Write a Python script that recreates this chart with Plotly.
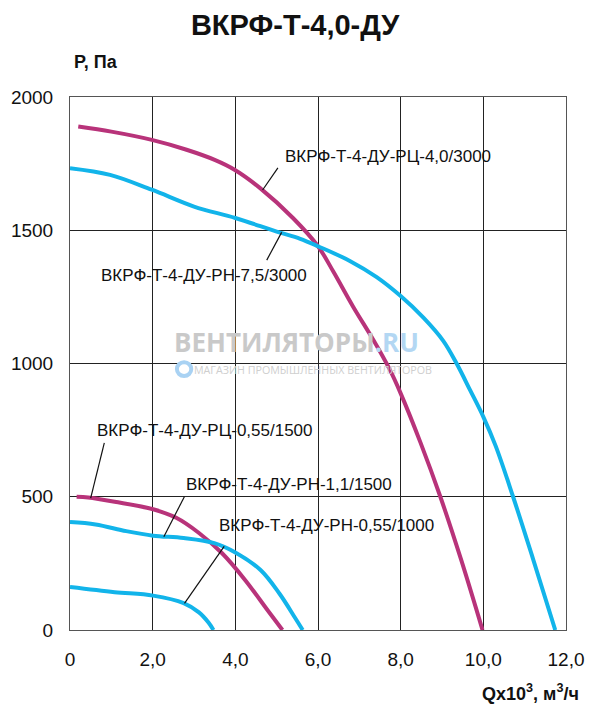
import plotly.graph_objects as go

# Fan curves, Q in thousands m3/h, P in Pa
rc40_q = [0.2, 1.0, 1.98, 2.82, 3.5, 3.98, 4.6, 5.4, 6.0, 6.37, 6.85, 7.34, 7.74, 8.0, 8.48, 8.96, 9.47, 9.98]
rc40_p = [1889, 1870, 1839, 1802, 1764, 1727, 1658, 1545, 1440, 1345, 1213, 1088, 976, 888, 703, 500, 260, 0]

rn75_q = [0.0, 0.97, 1.98, 3.0, 4.0, 5.0, 5.57, 6.0, 6.77, 7.42, 8.0, 8.55, 9.03, 9.36, 9.68, 10.0,
          10.3, 10.72, 11.2, 11.74]
rn75_p = [1733, 1708, 1652, 1589, 1546, 1495, 1468, 1440, 1385, 1324, 1253, 1172, 1085, 998, 900, 800,
          690, 500, 268, 0]

rc055_q = [0.16, 0.44, 1.08, 2.01, 2.57, 3.12, 3.68, 4.24, 4.79, 5.14]
rc055_p = [500, 497, 481, 453, 421, 364, 288, 187, 72, 0]

rn11_q = [0.0, 0.62, 1.36, 2.01, 2.75, 3.49, 4.0, 4.61, 5.07, 5.44, 5.63]
rn11_p = [405, 396, 371, 354, 345, 326, 291, 225, 136, 47, 0]

rn055_q = [0.0, 1.08, 2.01, 2.75, 3.12, 3.35, 3.47]
rn055_p = [161, 142, 129, 101, 66, 28, 0]

x_ticks = [0, 2, 4, 6, 8, 10, 12]
x_labels = ["0", "2,0", "4,0", "6,0", "8,0", "10,0", "12,0"]
y_ticks = [0, 500, 1000, 1500, 2000]

# curve labels: text, text position (left, middle), leader from / to
labels = ["ВКРФ-Т-4-ДУ-РЦ-4,0/3000", "ВКРФ-Т-4-ДУ-РН-7,5/3000", "ВКРФ-Т-4-ДУ-РЦ-0,55/1500",
          "ВКРФ-Т-4-ДУ-РН-1,1/1500", "ВКРФ-Т-4-ДУ-РН-0,55/1000"]
label_x = [5.16, 0.71, 0.595, 2.77, 3.56]
label_y = [1776, 1332, 747, 545, 394]
lead_x0 = [5.03, 4.76, 0.83, 2.77, 3.73]
lead_y0 = [1734, 1388, 702, 501, 314]
lead_x1 = [4.66, 5.12, 0.5, 2.27, 2.77]
lead_y1 = [1651, 1492, 495, 350, 100]

MAGENTA = "#b8337a"
CYAN = "#12b4ea"

fig = go.Figure()
for q, p, col in [(rc40_q, rc40_p, MAGENTA), (rn75_q, rn75_p, CYAN),
                  (rc055_q, rc055_p, MAGENTA), (rn11_q, rn11_p, CYAN),
                  (rn055_q, rn055_p, CYAN)]:
    fig.add_trace(go.Scatter(x=q, y=p, mode="lines", line=dict(color=col, width=4, shape="spline", smoothing=1.0),
                             hoverinfo="skip", showlegend=False))

for i in range(len(labels)):
    fig.add_annotation(x=label_x[i], y=label_y[i], text=labels[i], showarrow=False,
                       xanchor="left", yanchor="middle", font=dict(size=17, color="#111"))
    fig.add_shape(type="line", x0=lead_x0[i], y0=lead_y0[i], x1=lead_x1[i], y1=lead_y1[i],
                  line=dict(color="#111", width=1.2))

# watermark
fig.add_annotation(xref="paper", yref="paper", x=0.206, y=0.54, xanchor="left", yanchor="middle",
                   text="<b>ВЕНТИЛЯТОРЫ<span style='color:#b3d7f3'>.RU</span></b>", showarrow=False,
                   font=dict(family="Open Sans, Arial", size=26, color="#c9c9c9"))
fig.add_annotation(xref="paper", yref="paper", x=0.245, y=0.488, xanchor="left", yanchor="middle",
                   text="МАГАЗИН ПРОМЫШЛЕННЫХ ВЕНТИЛЯТОРОВ", showarrow=False,
                   font=dict(family="Open Sans, Arial", size=10.7, color="#cfcfcf"))
fig.add_shape(type="circle", xref="paper", yref="paper", x0=0.2155, x1=0.2445, y0=0.4765, y1=0.5025,
              line=dict(color="#a9d2f3", width=4), fillcolor="white", layer="above")

# axis titles
fig.add_annotation(xref="paper", yref="paper", x=0.004, y=1.066, xanchor="left", yanchor="middle",
                   text="<b>P, Па</b>", showarrow=False, font=dict(size=18, color="#111"))
fig.add_annotation(xref="paper", yref="paper", x=1.03, y=-0.118, xanchor="right", yanchor="middle",
                   text="<b>Qx10<sup>3</sup>, м<sup>3</sup>/ч</b>", showarrow=False,
                   font=dict(size=18, color="#111"))

# page body adds an 8px offset, so the figure is 8px smaller than the window
fig.update_layout(
    width=592, height=700,
    margin=dict(l=62, r=34, t=89, b=78),
    paper_bgcolor="white", plot_bgcolor="white",
    font=dict(family="Arial, Liberation Sans", color="#111"),
    title=dict(text="<b>ВКРФ-Т-4,0-ДУ</b>", x=0.485, xanchor="center", y=0.976, yanchor="middle",
               font=dict(size=29, color="#111")),
)
fig.update_xaxes(range=[0, 12], tickvals=x_ticks, ticktext=x_labels, showgrid=True, gridcolor="#222",
                 gridwidth=1, showline=True, linecolor="#555", linewidth=1, mirror=True, zeroline=False,
                 ticks="", tickfont=dict(size=19), ticklabelstandoff=12, automargin=False)
fig.update_yaxes(range=[0, 2000], tickvals=y_ticks, showgrid=True, gridcolor="#222",
                 gridwidth=1, showline=True, linecolor="#555", linewidth=1, mirror=True, zeroline=False,
                 ticks="", tickfont=dict(size=19), ticklabelstandoff=12, automargin=False)

fig.write_html("out.html")
